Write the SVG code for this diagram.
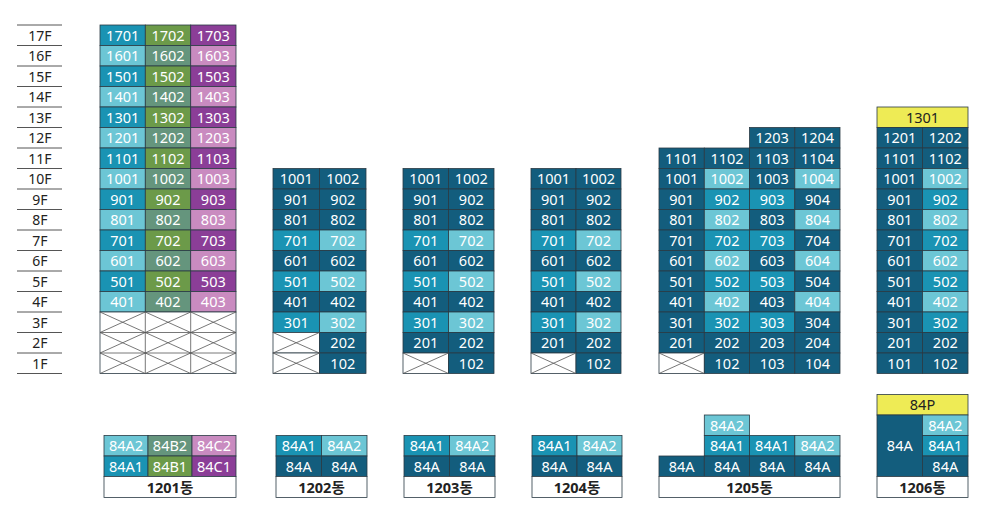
<svg xmlns="http://www.w3.org/2000/svg" width="987" height="516" viewBox="0 0 987 516">
<style>
rect{stroke:#2a3a44;stroke-width:0.8}
.d{fill:#135d7d}.m{fill:#1a93b3}.l{fill:#6cc6d5}.g{fill:#6c9a49}.s{fill:#65957d}.p{fill:#8b3e97}.k{fill:#c98bc0}.y{fill:#eeeb55}.w{fill:#fff}
text{font-family:"Noto Sans","Noto Sans CJK KR",sans-serif;font-size:14.5px;text-anchor:middle;fill:#fff}
.b{fill:#222}
.fl{fill:#222;font-size:14px}
.x{stroke:#555;stroke-width:0.8}
.fline{stroke:#555;stroke-width:1}
</style>
<rect width="987" height="516" fill="#fff" style="stroke:none"/>
<g id="floors">
<g class="fline"><line x1="17" y1="25" x2="62" y2="25"/><line x1="17" y1="45.5" x2="62" y2="45.5"/><line x1="17" y1="66" x2="62" y2="66"/><line x1="17" y1="86.5" x2="62" y2="86.5"/><line x1="17" y1="107" x2="62" y2="107"/><line x1="17" y1="127.5" x2="62" y2="127.5"/><line x1="17" y1="148" x2="62" y2="148"/><line x1="17" y1="168.5" x2="62" y2="168.5"/><line x1="17" y1="189" x2="62" y2="189"/><line x1="17" y1="209.5" x2="62" y2="209.5"/><line x1="17" y1="230" x2="62" y2="230"/><line x1="17" y1="250.5" x2="62" y2="250.5"/><line x1="17" y1="271" x2="62" y2="271"/><line x1="17" y1="291.5" x2="62" y2="291.5"/><line x1="17" y1="312" x2="62" y2="312"/><line x1="17" y1="332.5" x2="62" y2="332.5"/><line x1="17" y1="353" x2="62" y2="353"/><line x1="17" y1="373.5" x2="62" y2="373.5"/></g>
<text class="fl" x="40" y="40.5">17F</text><text class="fl" x="40" y="61">16F</text><text class="fl" x="40" y="81.5">15F</text><text class="fl" x="40" y="102">14F</text><text class="fl" x="40" y="122.5">13F</text><text class="fl" x="40" y="143">12F</text><text class="fl" x="40" y="163.5">11F</text><text class="fl" x="40" y="184">10F</text><text class="fl" x="40" y="204.5">9F</text><text class="fl" x="40" y="225">8F</text><text class="fl" x="40" y="245.5">7F</text><text class="fl" x="40" y="266">6F</text><text class="fl" x="40" y="286.5">5F</text><text class="fl" x="40" y="307">4F</text><text class="fl" x="40" y="327.5">3F</text><text class="fl" x="40" y="348">2F</text><text class="fl" x="40" y="368.5">1F</text>
</g>
<g id="b1201">
<rect class="m" x="100" y="25" width="45.3" height="20.5"/><rect class="g" x="145.3" y="25" width="45.4" height="20.5"/><rect class="p" x="190.7" y="25" width="45.3" height="20.5"/>
<rect class="l" x="100" y="45.5" width="45.3" height="20.5"/><rect class="s" x="145.3" y="45.5" width="45.4" height="20.5"/><rect class="k" x="190.7" y="45.5" width="45.3" height="20.5"/>
<rect class="m" x="100" y="66" width="45.3" height="20.5"/><rect class="g" x="145.3" y="66" width="45.4" height="20.5"/><rect class="p" x="190.7" y="66" width="45.3" height="20.5"/>
<rect class="l" x="100" y="86.5" width="45.3" height="20.5"/><rect class="s" x="145.3" y="86.5" width="45.4" height="20.5"/><rect class="k" x="190.7" y="86.5" width="45.3" height="20.5"/>
<rect class="m" x="100" y="107" width="45.3" height="20.5"/><rect class="g" x="145.3" y="107" width="45.4" height="20.5"/><rect class="p" x="190.7" y="107" width="45.3" height="20.5"/>
<rect class="l" x="100" y="127.5" width="45.3" height="20.5"/><rect class="s" x="145.3" y="127.5" width="45.4" height="20.5"/><rect class="k" x="190.7" y="127.5" width="45.3" height="20.5"/>
<rect class="m" x="100" y="148" width="45.3" height="20.5"/><rect class="g" x="145.3" y="148" width="45.4" height="20.5"/><rect class="p" x="190.7" y="148" width="45.3" height="20.5"/>
<rect class="l" x="100" y="168.5" width="45.3" height="20.5"/><rect class="s" x="145.3" y="168.5" width="45.4" height="20.5"/><rect class="k" x="190.7" y="168.5" width="45.3" height="20.5"/>
<rect class="m" x="100" y="189" width="45.3" height="20.5"/><rect class="g" x="145.3" y="189" width="45.4" height="20.5"/><rect class="p" x="190.7" y="189" width="45.3" height="20.5"/>
<rect class="l" x="100" y="209.5" width="45.3" height="20.5"/><rect class="s" x="145.3" y="209.5" width="45.4" height="20.5"/><rect class="k" x="190.7" y="209.5" width="45.3" height="20.5"/>
<rect class="m" x="100" y="230" width="45.3" height="20.5"/><rect class="g" x="145.3" y="230" width="45.4" height="20.5"/><rect class="p" x="190.7" y="230" width="45.3" height="20.5"/>
<rect class="l" x="100" y="250.5" width="45.3" height="20.5"/><rect class="s" x="145.3" y="250.5" width="45.4" height="20.5"/><rect class="k" x="190.7" y="250.5" width="45.3" height="20.5"/>
<rect class="m" x="100" y="271" width="45.3" height="20.5"/><rect class="g" x="145.3" y="271" width="45.4" height="20.5"/><rect class="p" x="190.7" y="271" width="45.3" height="20.5"/>
<rect class="l" x="100" y="291.5" width="45.3" height="20.5"/><rect class="s" x="145.3" y="291.5" width="45.4" height="20.5"/><rect class="k" x="190.7" y="291.5" width="45.3" height="20.5"/>
<rect class="w" x="100" y="312" width="136" height="61.5"/>
<g class="x"><line x1="145.3" y1="312" x2="145.3" y2="373.5"/><line x1="190.7" y1="312" x2="190.7" y2="373.5"/><line x1="100" y1="332.5" x2="236" y2="332.5"/><line x1="100" y1="353" x2="236" y2="353"/>
<path d="M100,312L145.3,332.5M145.3,312L100,332.5M145.3,312L190.7,332.5M190.7,312L145.3,332.5M190.7,312L236,332.5M236,312L190.7,332.5M100,332.5L145.3,353M145.3,332.5L100,353M145.3,332.5L190.7,353M190.7,332.5L145.3,353M190.7,332.5L236,353M236,332.5L190.7,353M100,353L145.3,373.5M145.3,353L100,373.5M145.3,353L190.7,373.5M190.7,353L145.3,373.5M190.7,353L236,373.5M236,353L190.7,373.5" fill="none"/></g>
<text x="122.7" y="40.5">1701</text><text x="168" y="40.5">1702</text><text x="213.3" y="40.5">1703</text>
<text x="122.7" y="61">1601</text><text x="168" y="61">1602</text><text x="213.3" y="61">1603</text>
<text x="122.7" y="81.5">1501</text><text x="168" y="81.5">1502</text><text x="213.3" y="81.5">1503</text>
<text x="122.7" y="102">1401</text><text x="168" y="102">1402</text><text x="213.3" y="102">1403</text>
<text x="122.7" y="122.5">1301</text><text x="168" y="122.5">1302</text><text x="213.3" y="122.5">1303</text>
<text x="122.7" y="143">1201</text><text x="168" y="143">1202</text><text x="213.3" y="143">1203</text>
<text x="122.7" y="163.5">1101</text><text x="168" y="163.5">1102</text><text x="213.3" y="163.5">1103</text>
<text x="122.7" y="184">1001</text><text x="168" y="184">1002</text><text x="213.3" y="184">1003</text>
<text x="122.7" y="204.5">901</text><text x="168" y="204.5">902</text><text x="213.3" y="204.5">903</text>
<text x="122.7" y="225">801</text><text x="168" y="225">802</text><text x="213.3" y="225">803</text>
<text x="122.7" y="245.5">701</text><text x="168" y="245.5">702</text><text x="213.3" y="245.5">703</text>
<text x="122.7" y="266">601</text><text x="168" y="266">602</text><text x="213.3" y="266">603</text>
<text x="122.7" y="286.5">501</text><text x="168" y="286.5">502</text><text x="213.3" y="286.5">503</text>
<text x="122.7" y="307">401</text><text x="168" y="307">402</text><text x="213.3" y="307">403</text>
</g>
<g id="b1202">
<rect class="d" x="273" y="168.5" width="46.5" height="20.5"/><rect class="d" x="319.5" y="168.5" width="46.5" height="20.5"/>
<rect class="d" x="273" y="189" width="46.5" height="20.5"/><rect class="d" x="319.5" y="189" width="46.5" height="20.5"/>
<rect class="d" x="273" y="209.5" width="46.5" height="20.5"/><rect class="d" x="319.5" y="209.5" width="46.5" height="20.5"/>
<rect class="m" x="273" y="230" width="46.5" height="20.5"/><rect class="l" x="319.5" y="230" width="46.5" height="20.5"/>
<rect class="d" x="273" y="250.5" width="46.5" height="20.5"/><rect class="d" x="319.5" y="250.5" width="46.5" height="20.5"/>
<rect class="m" x="273" y="271" width="46.5" height="20.5"/><rect class="l" x="319.5" y="271" width="46.5" height="20.5"/>
<rect class="d" x="273" y="291.5" width="46.5" height="20.5"/><rect class="d" x="319.5" y="291.5" width="46.5" height="20.5"/>
<rect class="m" x="273" y="312" width="46.5" height="20.5"/><rect class="l" x="319.5" y="312" width="46.5" height="20.5"/>
<rect class="w" x="273" y="332.5" width="46.5" height="20.5"/><rect class="d" x="319.5" y="332.5" width="46.5" height="20.5"/>
<rect class="w" x="273" y="353" width="46.5" height="20.5"/><rect class="d" x="319.5" y="353" width="46.5" height="20.5"/>
<path class="x" d="M273,332.5L319.5,353M319.5,332.5L273,353M273,353L319.5,373.5M319.5,353L273,373.5" fill="none"/>
<text x="296.3" y="184">1001</text><text x="342.8" y="184">1002</text>
<text x="296.3" y="204.5">901</text><text x="342.8" y="204.5">902</text>
<text x="296.3" y="225">801</text><text x="342.8" y="225">802</text>
<text x="296.3" y="245.5">701</text><text x="342.8" y="245.5">702</text>
<text x="296.3" y="266">601</text><text x="342.8" y="266">602</text>
<text x="296.3" y="286.5">501</text><text x="342.8" y="286.5">502</text>
<text x="296.3" y="307">401</text><text x="342.8" y="307">402</text>
<text x="296.3" y="327.5">301</text><text x="342.8" y="327.5">302</text>
<text x="342.8" y="348">202</text><text x="342.8" y="368.5">102</text>
</g>
<g id="b1203">
<rect class="d" x="403" y="168.5" width="45.5" height="20.5"/><rect class="d" x="448.5" y="168.5" width="45.5" height="20.5"/>
<rect class="d" x="403" y="189" width="45.5" height="20.5"/><rect class="d" x="448.5" y="189" width="45.5" height="20.5"/>
<rect class="d" x="403" y="209.5" width="45.5" height="20.5"/><rect class="d" x="448.5" y="209.5" width="45.5" height="20.5"/>
<rect class="m" x="403" y="230" width="45.5" height="20.5"/><rect class="l" x="448.5" y="230" width="45.5" height="20.5"/>
<rect class="d" x="403" y="250.5" width="45.5" height="20.5"/><rect class="d" x="448.5" y="250.5" width="45.5" height="20.5"/>
<rect class="m" x="403" y="271" width="45.5" height="20.5"/><rect class="l" x="448.5" y="271" width="45.5" height="20.5"/>
<rect class="d" x="403" y="291.5" width="45.5" height="20.5"/><rect class="d" x="448.5" y="291.5" width="45.5" height="20.5"/>
<rect class="m" x="403" y="312" width="45.5" height="20.5"/><rect class="l" x="448.5" y="312" width="45.5" height="20.5"/>
<rect class="d" x="403" y="332.5" width="45.5" height="20.5"/><rect class="d" x="448.5" y="332.5" width="45.5" height="20.5"/>
<rect class="w" x="403" y="353" width="45.5" height="20.5"/><rect class="d" x="448.5" y="353" width="45.5" height="20.5"/>
<path class="x" d="M403,353L448.5,373.5M448.5,353L403,373.5" fill="none"/>
<text x="425.8" y="184">1001</text><text x="471.3" y="184">1002</text>
<text x="425.8" y="204.5">901</text><text x="471.3" y="204.5">902</text>
<text x="425.8" y="225">801</text><text x="471.3" y="225">802</text>
<text x="425.8" y="245.5">701</text><text x="471.3" y="245.5">702</text>
<text x="425.8" y="266">601</text><text x="471.3" y="266">602</text>
<text x="425.8" y="286.5">501</text><text x="471.3" y="286.5">502</text>
<text x="425.8" y="307">401</text><text x="471.3" y="307">402</text>
<text x="425.8" y="327.5">301</text><text x="471.3" y="327.5">302</text>
<text x="425.8" y="348">201</text><text x="471.3" y="348">202</text><text x="471.3" y="368.5">102</text>
</g>
<g id="b1204">
<rect class="d" x="531" y="168.5" width="45" height="20.5"/><rect class="d" x="576" y="168.5" width="45" height="20.5"/>
<rect class="d" x="531" y="189" width="45" height="20.5"/><rect class="d" x="576" y="189" width="45" height="20.5"/>
<rect class="d" x="531" y="209.5" width="45" height="20.5"/><rect class="d" x="576" y="209.5" width="45" height="20.5"/>
<rect class="m" x="531" y="230" width="45" height="20.5"/><rect class="l" x="576" y="230" width="45" height="20.5"/>
<rect class="d" x="531" y="250.5" width="45" height="20.5"/><rect class="d" x="576" y="250.5" width="45" height="20.5"/>
<rect class="m" x="531" y="271" width="45" height="20.5"/><rect class="l" x="576" y="271" width="45" height="20.5"/>
<rect class="d" x="531" y="291.5" width="45" height="20.5"/><rect class="d" x="576" y="291.5" width="45" height="20.5"/>
<rect class="m" x="531" y="312" width="45" height="20.5"/><rect class="l" x="576" y="312" width="45" height="20.5"/>
<rect class="d" x="531" y="332.5" width="45" height="20.5"/><rect class="d" x="576" y="332.5" width="45" height="20.5"/>
<rect class="w" x="531" y="353" width="45" height="20.5"/><rect class="d" x="576" y="353" width="45" height="20.5"/>
<path class="x" d="M531,353L576,373.5M576,353L531,373.5" fill="none"/>
<text x="553.5" y="184">1001</text><text x="598.5" y="184">1002</text>
<text x="553.5" y="204.5">901</text><text x="598.5" y="204.5">902</text>
<text x="553.5" y="225">801</text><text x="598.5" y="225">802</text>
<text x="553.5" y="245.5">701</text><text x="598.5" y="245.5">702</text>
<text x="553.5" y="266">601</text><text x="598.5" y="266">602</text>
<text x="553.5" y="286.5">501</text><text x="598.5" y="286.5">502</text>
<text x="553.5" y="307">401</text><text x="598.5" y="307">402</text>
<text x="553.5" y="327.5">301</text><text x="598.5" y="327.5">302</text>
<text x="553.5" y="348">201</text><text x="598.5" y="348">202</text><text x="598.5" y="368.5">102</text>
</g>
<g id="b1205">
<rect class="d" x="749.5" y="127.5" width="45.3" height="20.5"/><rect class="d" x="794.8" y="127.5" width="45.2" height="20.5"/>
<rect class="d" x="659" y="148" width="45.3" height="20.5"/><rect class="d" x="704.3" y="148" width="45.2" height="20.5"/><rect class="d" x="749.5" y="148" width="45.3" height="20.5"/><rect class="d" x="794.8" y="148" width="45.2" height="20.5"/>
<rect class="d" x="659" y="168.5" width="45.3" height="20.5"/><rect class="l" x="704.3" y="168.5" width="45.2" height="20.5"/><rect class="d" x="749.5" y="168.5" width="45.3" height="20.5"/><rect class="l" x="794.8" y="168.5" width="45.2" height="20.5"/>
<rect class="d" x="659" y="189" width="45.3" height="20.5"/><rect class="m" x="704.3" y="189" width="45.2" height="20.5"/><rect class="m" x="749.5" y="189" width="45.3" height="20.5"/><rect class="d" x="794.8" y="189" width="45.2" height="20.5"/>
<rect class="d" x="659" y="209.5" width="45.3" height="20.5"/><rect class="l" x="704.3" y="209.5" width="45.2" height="20.5"/><rect class="d" x="749.5" y="209.5" width="45.3" height="20.5"/><rect class="l" x="794.8" y="209.5" width="45.2" height="20.5"/>
<rect class="d" x="659" y="230" width="45.3" height="20.5"/><rect class="m" x="704.3" y="230" width="45.2" height="20.5"/><rect class="m" x="749.5" y="230" width="45.3" height="20.5"/><rect class="d" x="794.8" y="230" width="45.2" height="20.5"/>
<rect class="d" x="659" y="250.5" width="45.3" height="20.5"/><rect class="l" x="704.3" y="250.5" width="45.2" height="20.5"/><rect class="d" x="749.5" y="250.5" width="45.3" height="20.5"/><rect class="l" x="794.8" y="250.5" width="45.2" height="20.5"/>
<rect class="d" x="659" y="271" width="45.3" height="20.5"/><rect class="m" x="704.3" y="271" width="45.2" height="20.5"/><rect class="m" x="749.5" y="271" width="45.3" height="20.5"/><rect class="d" x="794.8" y="271" width="45.2" height="20.5"/>
<rect class="d" x="659" y="291.5" width="45.3" height="20.5"/><rect class="l" x="704.3" y="291.5" width="45.2" height="20.5"/><rect class="d" x="749.5" y="291.5" width="45.3" height="20.5"/><rect class="l" x="794.8" y="291.5" width="45.2" height="20.5"/>
<rect class="d" x="659" y="312" width="45.3" height="20.5"/><rect class="m" x="704.3" y="312" width="45.2" height="20.5"/><rect class="m" x="749.5" y="312" width="45.3" height="20.5"/><rect class="d" x="794.8" y="312" width="45.2" height="20.5"/>
<rect class="d" x="659" y="332.5" width="45.3" height="20.5"/><rect class="d" x="704.3" y="332.5" width="45.2" height="20.5"/><rect class="d" x="749.5" y="332.5" width="45.3" height="20.5"/><rect class="d" x="794.8" y="332.5" width="45.2" height="20.5"/>
<rect class="w" x="659" y="353" width="45.3" height="20.5"/><rect class="d" x="704.3" y="353" width="45.2" height="20.5"/><rect class="d" x="749.5" y="353" width="45.3" height="20.5"/><rect class="d" x="794.8" y="353" width="45.2" height="20.5"/>
<path class="x" d="M659,353L704.3,373.5M704.3,353L659,373.5" fill="none"/>
<text x="772.2" y="143">1203</text><text x="817.5" y="143">1204</text>
<text x="681.7" y="163.5">1101</text><text x="727" y="163.5">1102</text><text x="772.2" y="163.5">1103</text><text x="817.5" y="163.5">1104</text>
<text x="681.7" y="184">1001</text><text x="727" y="184">1002</text><text x="772.2" y="184">1003</text><text x="817.5" y="184">1004</text>
<text x="681.7" y="204.5">901</text><text x="727" y="204.5">902</text><text x="772.2" y="204.5">903</text><text x="817.5" y="204.5">904</text>
<text x="681.7" y="225">801</text><text x="727" y="225">802</text><text x="772.2" y="225">803</text><text x="817.5" y="225">804</text>
<text x="681.7" y="245.5">701</text><text x="727" y="245.5">702</text><text x="772.2" y="245.5">703</text><text x="817.5" y="245.5">704</text>
<text x="681.7" y="266">601</text><text x="727" y="266">602</text><text x="772.2" y="266">603</text><text x="817.5" y="266">604</text>
<text x="681.7" y="286.5">501</text><text x="727" y="286.5">502</text><text x="772.2" y="286.5">503</text><text x="817.5" y="286.5">504</text>
<text x="681.7" y="307">401</text><text x="727" y="307">402</text><text x="772.2" y="307">403</text><text x="817.5" y="307">404</text>
<text x="681.7" y="327.5">301</text><text x="727" y="327.5">302</text><text x="772.2" y="327.5">303</text><text x="817.5" y="327.5">304</text>
<text x="681.7" y="348">201</text><text x="727" y="348">202</text><text x="772.2" y="348">203</text><text x="817.5" y="348">204</text>
<text x="727" y="368.5">102</text><text x="772.2" y="368.5">103</text><text x="817.5" y="368.5">104</text>
</g>
<g id="b1206">
<rect class="y" x="877" y="107" width="91" height="20.5"/>
<rect class="d" x="877" y="127.5" width="45.5" height="20.5"/><rect class="d" x="922.5" y="127.5" width="45.5" height="20.5"/>
<rect class="d" x="877" y="148" width="45.5" height="20.5"/><rect class="d" x="922.5" y="148" width="45.5" height="20.5"/>
<rect class="d" x="877" y="168.5" width="45.5" height="20.5"/><rect class="l" x="922.5" y="168.5" width="45.5" height="20.5"/>
<rect class="d" x="877" y="189" width="45.5" height="20.5"/><rect class="m" x="922.5" y="189" width="45.5" height="20.5"/>
<rect class="d" x="877" y="209.5" width="45.5" height="20.5"/><rect class="l" x="922.5" y="209.5" width="45.5" height="20.5"/>
<rect class="d" x="877" y="230" width="45.5" height="20.5"/><rect class="m" x="922.5" y="230" width="45.5" height="20.5"/>
<rect class="d" x="877" y="250.5" width="45.5" height="20.5"/><rect class="l" x="922.5" y="250.5" width="45.5" height="20.5"/>
<rect class="d" x="877" y="271" width="45.5" height="20.5"/><rect class="m" x="922.5" y="271" width="45.5" height="20.5"/>
<rect class="d" x="877" y="291.5" width="45.5" height="20.5"/><rect class="l" x="922.5" y="291.5" width="45.5" height="20.5"/>
<rect class="d" x="877" y="312" width="45.5" height="20.5"/><rect class="m" x="922.5" y="312" width="45.5" height="20.5"/>
<rect class="d" x="877" y="332.5" width="45.5" height="20.5"/><rect class="d" x="922.5" y="332.5" width="45.5" height="20.5"/>
<rect class="d" x="877" y="353" width="45.5" height="20.5"/><rect class="d" x="922.5" y="353" width="45.5" height="20.5"/>
<text class="b" x="922.5" y="122.5">1301</text>
<text x="899.8" y="143">1201</text><text x="945.3" y="143">1202</text>
<text x="899.8" y="163.5">1101</text><text x="945.3" y="163.5">1102</text>
<text x="899.8" y="184">1001</text><text x="945.3" y="184">1002</text>
<text x="899.8" y="204.5">901</text><text x="945.3" y="204.5">902</text>
<text x="899.8" y="225">801</text><text x="945.3" y="225">802</text>
<text x="899.8" y="245.5">701</text><text x="945.3" y="245.5">702</text>
<text x="899.8" y="266">601</text><text x="945.3" y="266">602</text>
<text x="899.8" y="286.5">501</text><text x="945.3" y="286.5">502</text>
<text x="899.8" y="307">401</text><text x="945.3" y="307">402</text>
<text x="899.8" y="327.5">301</text><text x="945.3" y="327.5">302</text>
<text x="899.8" y="348">201</text><text x="945.3" y="348">202</text>
<text x="899.8" y="368.5">101</text><text x="945.3" y="368.5">102</text>
</g>
<g id="legend1201">
<rect class="l" x="104" y="435.5" width="44" height="20.5"/><rect class="s" x="148" y="435.5" width="44" height="20.5"/><rect class="k" x="192" y="435.5" width="44" height="20.5"/>
<rect class="m" x="104" y="456" width="44" height="20.5"/><rect class="g" x="148" y="456" width="44" height="20.5"/><rect class="p" x="192" y="456" width="44" height="20.5"/>
<rect class="w" x="104" y="476.5" width="132" height="21"/>
<text x="126" y="451">84A2</text><text x="170" y="451">84B2</text><text x="214" y="451">84C2</text>
<text x="126" y="471.5">84A1</text><text x="170" y="471.5">84B1</text><text x="214" y="471.5">84C1</text>
<text class="b" x="170" y="492.5" font-weight="bold">1201동</text>
</g>
<g id="legend1202">
<rect class="m" x="276" y="435.5" width="45.5" height="20.5"/><rect class="l" x="321.5" y="435.5" width="45.5" height="20.5"/>
<rect class="d" x="276" y="456" width="45.5" height="20.5"/><rect class="d" x="321.5" y="456" width="45.5" height="20.5"/>
<rect class="w" x="276" y="476.5" width="91" height="21"/>
<text x="298.8" y="451">84A1</text><text x="344.3" y="451">84A2</text>
<text x="298.8" y="471.5">84A</text><text x="344.3" y="471.5">84A</text>
<text class="b" x="321.5" y="492.5" font-weight="bold">1202동</text>
</g>
<g id="legend1203">
<rect class="m" x="404" y="435.5" width="45.5" height="20.5"/><rect class="l" x="449.5" y="435.5" width="45.5" height="20.5"/>
<rect class="d" x="404" y="456" width="45.5" height="20.5"/><rect class="d" x="449.5" y="456" width="45.5" height="20.5"/>
<rect class="w" x="404" y="476.5" width="91" height="21"/>
<text x="426.8" y="451">84A1</text><text x="472.3" y="451">84A2</text>
<text x="426.8" y="471.5">84A</text><text x="472.3" y="471.5">84A</text>
<text class="b" x="449.5" y="492.5" font-weight="bold">1203동</text>
</g>
<g id="legend1204">
<rect class="m" x="532" y="435.5" width="45" height="20.5"/><rect class="l" x="577" y="435.5" width="45" height="20.5"/>
<rect class="d" x="532" y="456" width="45" height="20.5"/><rect class="d" x="577" y="456" width="45" height="20.5"/>
<rect class="w" x="532" y="476.5" width="90" height="21"/>
<text x="554.5" y="451">84A1</text><text x="599.5" y="451">84A2</text>
<text x="554.5" y="471.5">84A</text><text x="599.5" y="471.5">84A</text>
<text class="b" x="577" y="492.5" font-weight="bold">1204동</text>
</g>
<g id="legend1205">
<rect class="l" x="704.3" y="415" width="45.2" height="20.5"/>
<rect class="m" x="704.3" y="435.5" width="45.2" height="20.5"/><rect class="m" x="749.5" y="435.5" width="45.3" height="20.5"/><rect class="l" x="794.8" y="435.5" width="45.2" height="20.5"/>
<rect class="d" x="659" y="456" width="45.3" height="20.5"/><rect class="d" x="704.3" y="456" width="45.2" height="20.5"/><rect class="d" x="749.5" y="456" width="45.3" height="20.5"/><rect class="d" x="794.8" y="456" width="45.2" height="20.5"/>
<rect class="w" x="659" y="476.5" width="181" height="21"/>
<text x="727" y="430.5">84A2</text>
<text x="727" y="451">84A1</text><text x="772.2" y="451">84A1</text><text x="817.5" y="451">84A2</text>
<text x="681.7" y="471.5">84A</text><text x="727" y="471.5">84A</text><text x="772.2" y="471.5">84A</text><text x="817.5" y="471.5">84A</text>
<text class="b" x="749.5" y="492.5" font-weight="bold">1205동</text>
</g>
<g id="legend1206">
<rect class="y" x="877" y="394.5" width="91" height="20.5"/>
<rect class="d" x="877" y="415" width="45.5" height="61.5"/>
<rect class="l" x="922.5" y="415" width="45.5" height="20.5"/><rect class="m" x="922.5" y="435.5" width="45.5" height="20.5"/><rect class="d" x="922.5" y="456" width="45.5" height="20.5"/>
<rect class="w" x="877" y="476.5" width="91" height="21"/>
<text class="b" x="922.5" y="410">84P</text>
<text x="899.8" y="451">84A</text>
<text x="945.3" y="430.5">84A2</text><text x="945.3" y="451">84A1</text><text x="945.3" y="471.5">84A</text>
<text class="b" x="922.5" y="492.5" font-weight="bold">1206동</text>
</g>
</svg>
